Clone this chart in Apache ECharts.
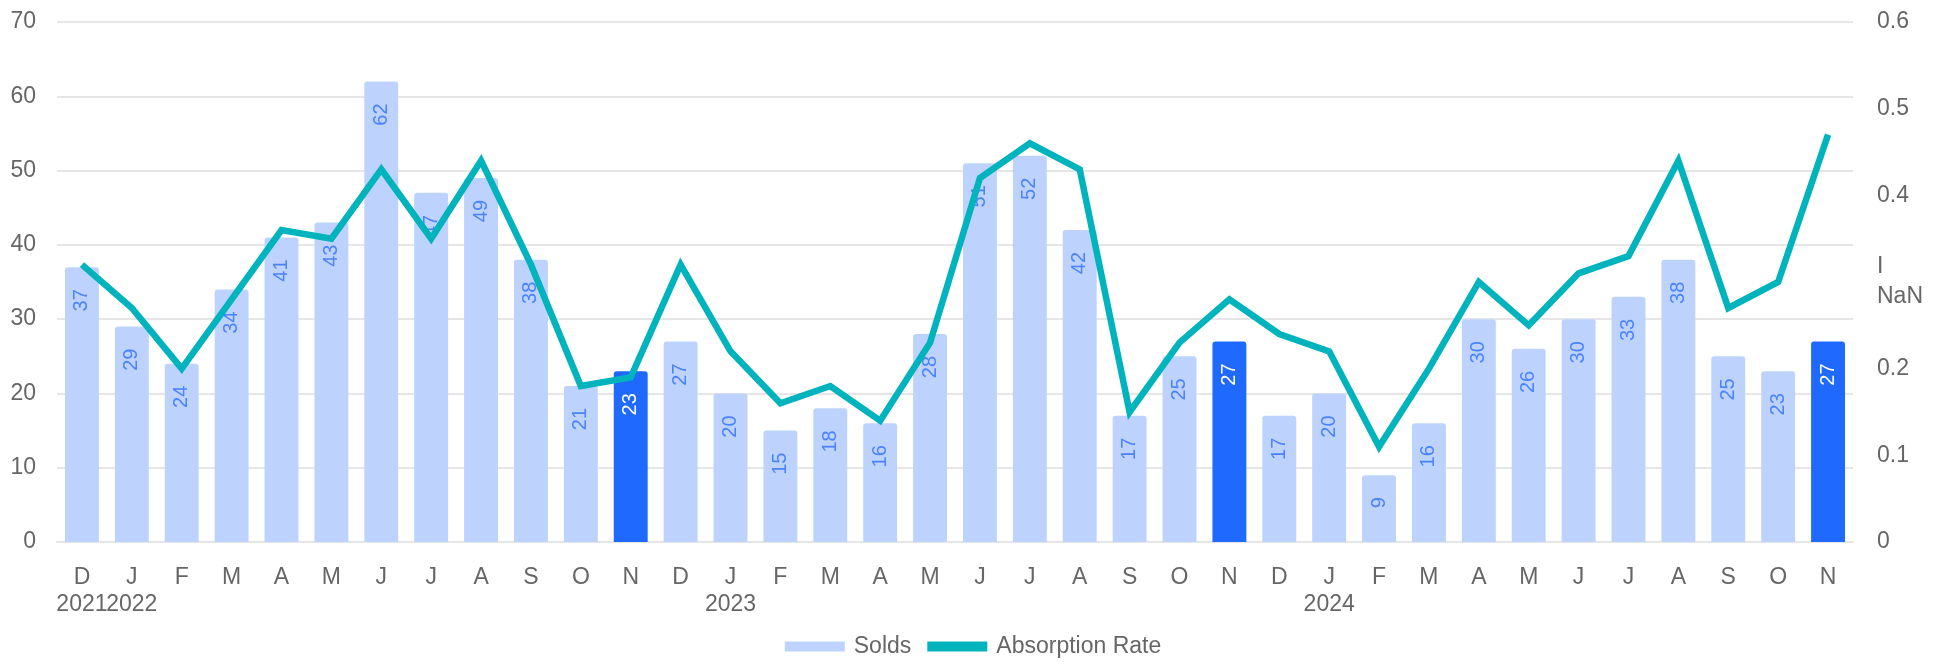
<!DOCTYPE html>
<html>
<head>
<meta charset="utf-8">
<script src="https://cdn.jsdelivr.net/npm/echarts@6/dist/echarts.min.js"></script>
<style>
  html, body { margin: 0; padding: 0; background: #fff; }
  #chart { width: 1946px; height: 665px; }
</style>
</head>
<body>
<div id="chart"></div>
<script>
// month labels, year shown under the first month of each year
const months = ['D', 'J', 'F', 'M', 'A', 'M', 'J', 'J', 'A', 'S', 'O', 'N',
  'D', 'J', 'F', 'M', 'A', 'M', 'J', 'J', 'A', 'S', 'O', 'N',
  'D', 'J', 'F', 'M', 'A', 'M', 'J', 'J', 'A', 'S', 'O', 'N'];
const years = ['2021', '2022', '', '', '', '', '', '', '', '', '', '',
  '', '2023', '', '', '', '', '', '', '', '', '', '',
  '', '2024', '', '', '', '', '', '', '', '', '', ''];

const solds = [37, 29, 24, 34, 41, 43, 62, 47, 49, 38, 21, 23,
  27, 20, 15, 18, 16, 28, 51, 52, 42, 17, 25, 27,
  17, 20, 9, 16, 30, 26, 30, 33, 38, 25, 23, 27];

const absorption = [0.32, 0.27, 0.20, 0.28, 0.36, 0.35, 0.43, 0.35, 0.44, 0.32, 0.18, 0.19,
  0.32, 0.22, 0.16, 0.18, 0.14, 0.23, 0.42, 0.46, 0.43, 0.15, 0.23, 0.28,
  0.24, 0.22, 0.11, 0.20, 0.30, 0.25, 0.31, 0.33, 0.44, 0.27, 0.30, 0.47];

// right axis tick labels as they appear (0.3 renders oddly)
const rateTicks = ['0', '0.1', '0.2', 'I\nNaN', '0.4', '0.5', '0.6'];

// months that are highlighted
const highlight = [11, 23, 35];

const categories = months.map((m, i) => years[i] ? m + '\n' + years[i] : m);

const lightBar = '#bdd3fe';
const darkBar = '#1f69ff';
const lineColor = '#00b3bc';
const textColor = '#666';
const font = 'Liberation Sans, Arial, sans-serif';

let chart = echarts.init(document.getElementById('chart'));
let option = {
  animation: false,
  textStyle: { fontFamily: font },
  grid: { left: 57, right: 93, top: 22, bottom: 123 },
  legend: {
    bottom: 2,
    left: 'center',
    itemWidth: 60,
    itemHeight: 10,
    itemGap: 16,
    textStyle: { color: textColor, fontSize: 23, fontFamily: font, padding: [0, 0, 0, 4] },
    data: [
      { name: 'Solds', icon: 'rect', itemStyle: { color: lightBar } },
      { name: 'Absorption Rate', icon: 'rect', itemStyle: { color: lineColor } }
    ]
  },
  xAxis: {
    type: 'category',
    data: categories,
    axisLine: { lineStyle: { color: '#e6e6e6', width: 2 } },
    axisTick: { show: false },
    axisLabel: {
      interval: 0,
      color: textColor,
      fontSize: 23,
      lineHeight: 27,
      margin: 22
    }
  },
  yAxis: [
    {
      type: 'value',
      min: 0,
      max: 70,
      interval: 10,
      axisLine: { show: false },
      axisTick: { show: false },
      splitLine: { lineStyle: { color: '#e6e6e6', width: 2 } },
      axisLabel: { color: textColor, fontSize: 23, margin: 21 }
    },
    {
      type: 'value',
      min: 0,
      max: 0.6,
      interval: 0.1,
      axisLine: { show: false },
      axisTick: { show: false },
      splitLine: { show: false },
      axisLabel: {
        color: textColor,
        fontSize: 23,
        margin: 24,
        lineHeight: 30,
        formatter: function (v) {
          return rateTicks[Math.round(v * 10)];
        }
      }
    }
  ],
  series: [
    {
      name: 'Solds',
      type: 'bar',
      barWidth: '68%',
      itemStyle: { color: lightBar, borderRadius: [3, 3, 0, 0] },
      label: {
        show: true,
        position: 'insideTop',
        rotate: 90,
        align: 'right',
        verticalAlign: 'middle',
        distance: 22,
        fontSize: 20,
        color: '#4a82ff'
      },
      data: solds.map((v, i) => highlight.includes(i)
        ? { value: v, itemStyle: { color: darkBar }, label: { color: '#fff' } }
        : v)
    },
    {
      name: 'Absorption Rate',
      type: 'line',
      yAxisIndex: 1,
      symbol: 'none',
      z: 5,
      lineStyle: { color: lineColor, width: 6.5, join: 'miter' },
      itemStyle: { color: lineColor },
      data: absorption
    }
  ]
};
chart.setOption(option);
</script>
</body>
</html>
